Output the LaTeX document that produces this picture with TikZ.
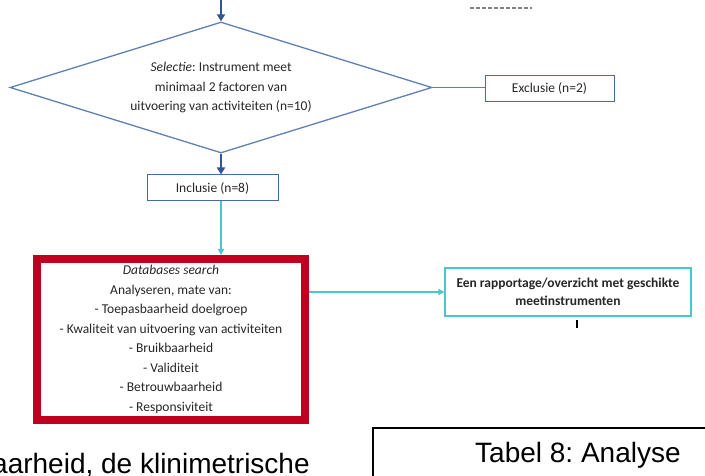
\documentclass[tikz,border=0pt]{standalone}
\usepackage{fontspec}
\setmainfont{Carlito}
\newfontfamily\bodyfont{Liberation Sans}
\usepackage{tikz}
\usetikzlibrary{shapes,arrows.meta,positioning}
\usepackage{xcolor}
\definecolor{flowblue}{RGB}{47,85,151}
\definecolor{edgeblue}{RGB}{96,128,180}
\definecolor{boxblue}{RGB}{68,108,162}
\definecolor{linkcyan}{RGB}{72,200,206}
\definecolor{framered}{RGB}{192,0,30}
\frenchspacing

\begin{document}
\begin{tikzpicture}[
    x=1pt, y=-1pt,
    font=\fontsize{13.5}{19.5}\selectfont,
    text=black!85,
    decision/.style={diamond, draw=edgeblue, line width=1.3pt, align=center, inner sep=0pt, aspect=3.22, minimum width=422pt, minimum height=131pt},
    block/.style={rectangle, draw=boxblue, line width=1pt, align=center, minimum height=26pt},
    searchbox/.style={rectangle, draw=framered, line width=8pt, outer sep=4pt, align=center, minimum width=268pt, minimum height=161pt},
    result/.style={rectangle, draw=linkcyan, line width=1.2pt, align=center, font=\fontsize{13.5}{18.5}\selectfont\bfseries, minimum width=246pt, minimum height=48pt},
    line/.style={draw=flowblue, line width=2pt, -{Triangle[length=7pt,width=8pt]}},
    cyanline/.style={draw=linkcyan, line width=1.6pt, -{Triangle[length=6pt,width=6pt]}}
    ]
    \useasboundingbox (0,0) rectangle (705,476);

    \coordinate (start) at (221,0);
    \node [decision] (selectie) at (221,87.5) {\textit{Selectie}: Instrument meet\\minimaal 2 factoren van\\uitvoering van activiteiten (n=10)};
    \node [block, minimum width=129pt] (exclusie) at (549.5,88.5) {Exclusie (n=2)};
    \node [block, minimum width=131pt] (inclusie) at (212.5,188) {Inclusie (n=8)};
    \node [searchbox] (search) at (171,339.5) {\textit{Databases search}\\Analyseren, mate van:\\- Toepasbaarheid doelgroep\\- Kwaliteit van uitvoering van activiteiten\\- Bruikbaarheid\\- Validiteit\\- Betrouwbaarheid\\- Responsiviteit};
    \node [result] (rapport) at (568,292) {Een rapportage/overzicht met geschikte\\meetinstrumenten};

    \path [line] (start) -- (selectie.north);
    \draw [edgeblue, line width=1.3pt] (selectie.east) -- (selectie.east -| exclusie.west);
    \path [line] (selectie.south) -- (selectie.south |- inclusie.north);
    \path [cyanline] (selectie.south |- inclusie.south) -- (selectie.south |- search.north);
    \path [cyanline] (search.east |- rapport.west) -- (rapport.west);
    \draw [black, line width=1.5pt] ([xshift=9pt,yshift=-3pt]rapport.south) -- ++(0,8);

    % cut-off parts of the page
    \draw [gray, line width=1.5pt, dash pattern=on 4pt off 2pt] (470,8) -- (532,8);
    \draw [line width=1.2pt] (373,490) -- (373,428) -- (720,428);
    \node [anchor=base west, inner sep=0pt, text=black, font=\bodyfont\fontsize{28}{32}\selectfont] (tabel) at (475,462) {Tabel 8: Analyse};
    \node [anchor=base west, inner sep=0pt, text=black, font=\bodyfont\fontsize{28}{32}\selectfont] (bodytext) at (-8,473) {aarheid, de klinimetrische};
\end{tikzpicture}
\end{document}
